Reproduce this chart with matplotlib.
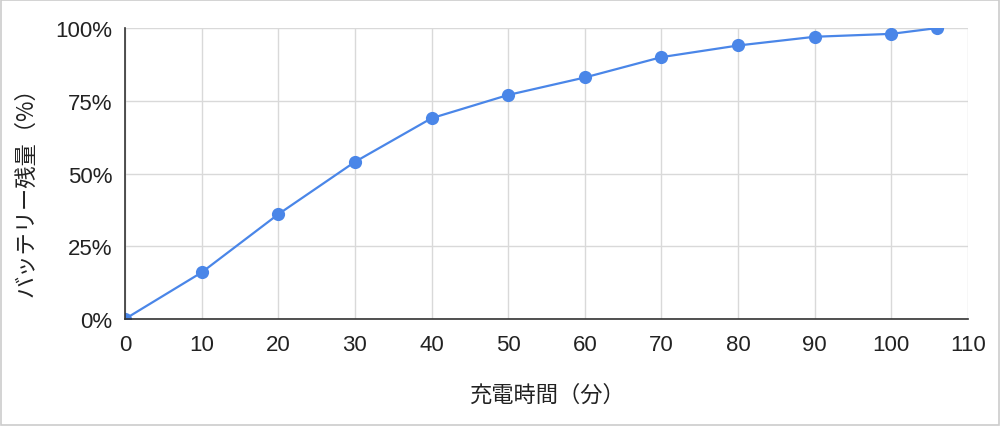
import matplotlib
matplotlib.use("Agg")
import matplotlib.pyplot as plt
from matplotlib.ticker import FuncFormatter, MultipleLocator
from matplotlib.patches import Rectangle

minutes = [0, 10, 20, 30, 40, 50, 60, 70, 80, 90, 100, 106]
battery = [0, 16, 36, 54, 69, 77, 83, 90, 94, 97, 98, 100]
x_label = "充電時間（分）"
y_label = "バッテリー残量（%）"

plt.rcParams['font.family'] = ['Liberation Sans', 'Noto Sans CJK JP', 'DejaVu Sans']

fig = plt.figure(figsize=(10, 4.27), dpi=100)
ax = fig.add_axes([0.125, 0.2506, 0.843, 0.6814])

ax.plot(minutes, battery, color='#4a86e8', linewidth=1.6, marker='o',
        markersize=9.5, markeredgewidth=0, zorder=3)

ax.set_xlim(0, 110)
ax.set_ylim(0, 100)
ax.xaxis.set_major_locator(MultipleLocator(10))
ax.yaxis.set_major_locator(MultipleLocator(25))
ax.yaxis.set_major_formatter(FuncFormatter(lambda v, p: f"{int(v)}%"))
ax.grid(True, color='#d9d9d9', linewidth=1)
ax.set_axisbelow(True)
for s in ['top', 'right']:
    ax.spines[s].set_visible(False)
for s in ['left', 'bottom']:
    ax.spines[s].set_color('#333333')
    ax.spines[s].set_linewidth(1.2)
    ax.spines[s].set_zorder(4)
ax.tick_params(length=0, labelsize=16, colors='#222222')
ax.tick_params(axis='x', pad=11)
ax.tick_params(axis='y', pad=9)

ax.set_xlabel(x_label, fontsize=16, family=['Noto Sans CJK JP', 'DejaVu Sans'],
              color='#222222', labelpad=20)
ax.set_ylabel(y_label, fontsize=16, family=['Noto Sans CJK JP', 'DejaVu Sans'],
              color='#222222', labelpad=13)
ax.yaxis.label.set_y(0.46)

fig.patches.append(Rectangle((0.001, 0.002), 0.998, 0.996, transform=fig.transFigure,
                             fill=False, edgecolor='#cccccc', linewidth=1.2))

fig.savefig("out.png", dpi=100)
